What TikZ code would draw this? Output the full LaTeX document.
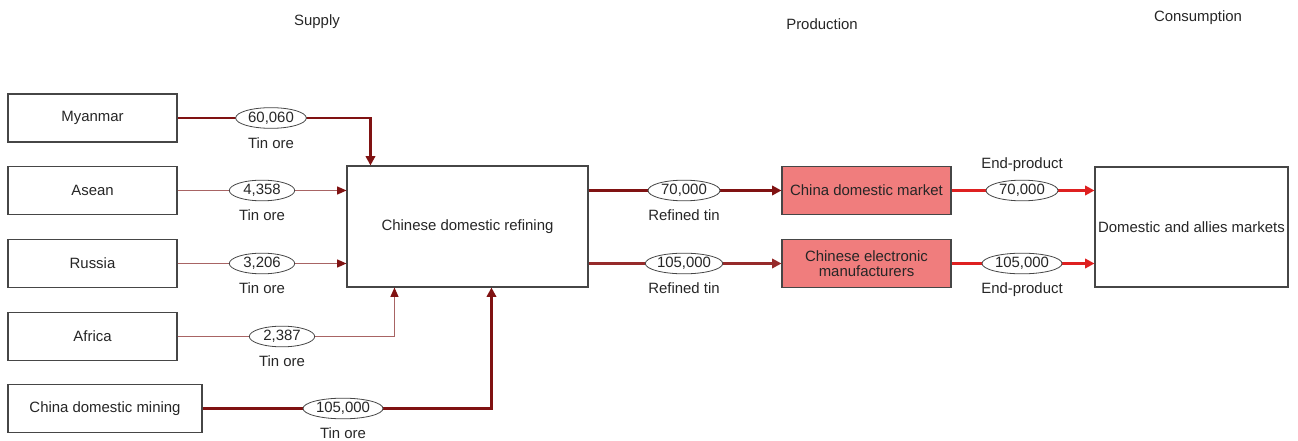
\documentclass[tikz,border=0pt]{standalone}
\usepackage{fontspec}
\setmainfont{Liberation Sans}
\usetikzlibrary{arrows.meta,shapes.geometric,calc}

\definecolor{flowdark}{RGB}{128,18,18}
\definecolor{flowmid}{RGB}{150,42,42}
\definecolor{flowthin}{RGB}{168,100,100}
\definecolor{flowbright}{RGB}{222,32,32}
\definecolor{boxred}{RGB}{240,125,125}
\definecolor{edgegray}{RGB}{70,70,70}

\tikzset{
  every node/.style={font=\fontsize{11.2pt}{13pt}\selectfont, text=black!85},
  srcbox/.style={draw=edgegray, line width=0.8pt, fill=white, rectangle,
    minimum width=126.75pt, minimum height=36pt, inner sep=0pt},
  procbox/.style={draw=edgegray, line width=0.8pt, fill=boxred, rectangle,
    minimum width=126.75pt, minimum height=35.5pt, inner sep=0pt, align=center},
  bigbox/.style={draw=edgegray, line width=0.8pt, fill=white, rectangle, inner sep=0pt},
  qty/.style={draw=edgegray, line width=0.6pt, fill=white, ellipse,
    inner sep=0pt, minimum height=15.5pt},
  heavy/.style={draw=flowdark, line width=2.2pt,
    -{Triangle[length=7pt,width=7pt]}},
  light/.style={draw=flowthin, line width=0.8pt,
    -{Triangle[length=7pt,width=6pt,color=flowdark]}},
  bright/.style={draw=flowbright, line width=2.2pt,
    -{Triangle[length=7pt,width=7pt]}},
  heading/.style={inner sep=0pt},
}

\begin{document}
\begin{tikzpicture}[x=0.75pt, y=-0.75pt]
  \useasboundingbox (0,0) rectangle (1298,441);

  % column headings
  \node[heading] (hsupply) at (317,22) {Supply};
  \node[heading] (hprod) at (822,24) {Production};
  \node[heading] (hcons) at (1198,18) {Consumption};

  % sources
  \node[srcbox] (myanmar) at (92.5,118) {Myanmar};
  \node[srcbox] (asean) at (92.5,190.5) {Asean};
  \node[srcbox] (russia) at (92.5,263.5) {Russia};
  \node[srcbox] (africa) at (92.5,336.5) {Africa};
  \node[srcbox, minimum width=145.5pt] (mining) at (105,408.5) {China domestic mining};

  % refining and manufacturing
  \node[bigbox, minimum width=180.75pt, minimum height=90.75pt] (refining) at (467.5,226.5) {Chinese domestic refining};
  \node[procbox] (market) at (866.5,190.5) {China domestic market};
  \node[procbox, minimum height=36pt] (electronic) at (866.5,263.5) {Chinese electronic\\[-2pt]manufacturers};

  % consumption
  \node[bigbox, minimum width=144.75pt, minimum height=90pt] (consumer) at (1191.5,227) {Domestic and allies markets};

  % ore flows into refining
  \draw[heavy, line width=2pt] (myanmar.east) -| ($(refining.north west)+(24,0)$);
  \draw[light] (asean.east) -- (refining.west |- asean.east);
  \draw[light] (russia.east) -- (refining.west |- russia.east);
  \draw[light] (africa.east) -| ($(refining.south west)+(48,0)$);
  \draw[heavy, line width=2.5pt] (mining.east) -| ($(refining.south west)+(145,0)$);

  % refined tin to manufacturers
  \draw[heavy] (refining.east |- market.west) -- (market.west);
  \draw[heavy, draw=flowmid] (refining.east |- electronic.west) -- (electronic.west);

  % end products to consumers
  \draw[bright] (market.east) -- (consumer.west |- market.east);
  \draw[bright] (electronic.east) -- (consumer.west |- electronic.east);

  % quantities on the flows
  \begin{scope}[every label/.style={inner sep=0pt, font=\fontsize{11.2pt}{13pt}\selectfont, text=black!85}, label distance=6.5pt]
    \node[qty, minimum width=53pt, label=below:Tin ore] (qmyan) at (271,118) {60,060};
    \node[qty, minimum width=49pt, label=below:Tin ore] (qasean) at (262,190.5) {4,358};
    \node[qty, minimum width=49pt, label=below:Tin ore] (qrussia) at (262,263.5) {3,206};
    \node[qty, minimum width=49pt, label=below:Tin ore] (qafrica) at (282,336.5) {2,387};
    \node[qty, minimum width=60pt, label=below:Tin ore] (qmining) at (343,408.5) {105,000};
    \node[qty, minimum width=54pt, label=below:Refined tin] (qmarket) at (684,190.5) {70,000};
    \node[qty, minimum width=58pt, label=below:Refined tin] (qelec) at (684,263.5) {105,000};
    \node[qty, minimum width=54pt, label={[label distance=6pt]above:End-product}] (qend1) at (1022,190.5) {70,000};
    \node[qty, minimum width=60pt, label=below:End-product] (qend2) at (1022,263.5) {105,000};
  \end{scope}
\end{tikzpicture}
\end{document}
